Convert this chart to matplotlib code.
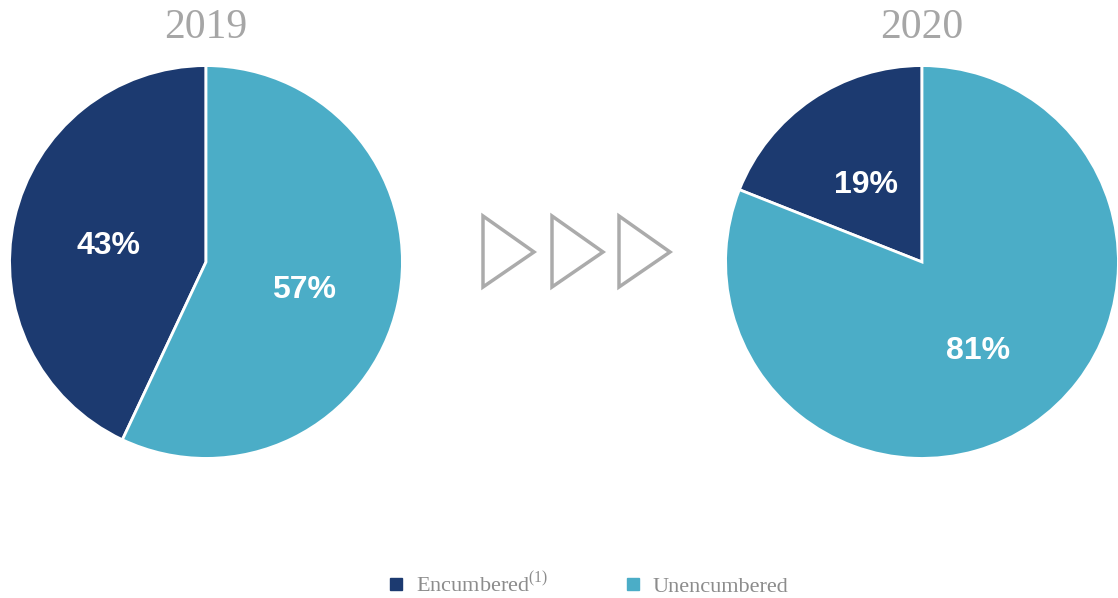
import matplotlib
matplotlib.use("Agg")
import matplotlib.pyplot as plt
from matplotlib.lines import Line2D
from matplotlib.patches import Polygon

# encumbered vs unencumbered share, per year
years = ["2019", "2020"]
categories = ["Encumbered$^{\\mathregular{(1)}}$", "Unencumbered"]
encumbered = [43, 19]
unencumbered = [57, 81]

COLORS = ["#1c3a70", "#4badc7"]
GRAY = "#a6a6a6"
W, H = 1118, 598

fig = plt.figure(figsize=(W / 100, H / 100), dpi=100)
fig.patch.set_facecolor("white")

R = 197
centers = [(206, 262), (922, 262)]

for i, year in enumerate(years):
    cx, cy = centers[i]
    ax = fig.add_axes([(cx - R) / W, (H - cy - R) / H, 2 * R / W, 2 * R / H])
    vals = [encumbered[i], unencumbered[i]]
    wedges, texts, autotexts = ax.pie(
        vals, colors=COLORS, startangle=90, counterclock=True,
        autopct=lambda p: "%d%%" % round(p), pctdistance=0.51,
        wedgeprops=dict(edgecolor="white", linewidth=2),
        textprops=dict(color="white", fontsize=23, fontweight="bold",
                       family="Liberation Sans"))
    # nudge the percentages down a touch
    for t in autotexts:
        x, y = t.get_position()
        t.set_position((x, y - 0.03))
    ax.set_xlim(-1.003, 1.003)
    ax.set_ylim(-1.003, 1.003)
    ax.set_aspect("equal")
    ax.axis("off")
    fig.text(cx / W, 1 - 28 / H, year, ha="center", va="center",
             fontsize=30, color=GRAY, family="Liberation Serif")

# three outline arrows between the pies
ov = fig.add_axes([0, 0, 1, 1])
ov.set_xlim(0, W)
ov.set_ylim(H, 0)
ov.axis("off")
for x0 in [483, 552, 619]:
    tri = Polygon([(x0, 216), (x0 + 51, 252), (x0, 287)], closed=True,
                  fill=False, edgecolor="#ababab", linewidth=2.5,
                  joinstyle="miter")
    ov.add_patch(tri)

handles = [Line2D([], [], marker="s", linestyle="none", markersize=9,
                  markerfacecolor=c, markeredgecolor=c) for c in COLORS]
fig.legend(handles, categories, loc="center", ncol=2, frameon=False,
           bbox_to_anchor=(588 / W, 1 - 584 / H), columnspacing=3.4,
           handlelength=0.8, handletextpad=0.5,
           prop=dict(family="Liberation Serif", size=16), labelcolor="#8c8c8c")

fig.savefig("out.png", dpi=100, facecolor="white")
